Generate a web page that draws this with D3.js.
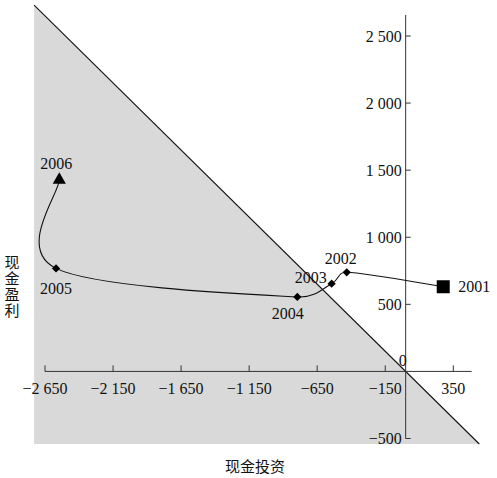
<!DOCTYPE html>
<html><head><meta charset="utf-8">
<script src="https://cdn.jsdelivr.net/npm/d3@7"></script>
<style>body{margin:0;background:#fff}svg{display:block}</style>
</head><body>
<svg id="c" width="497" height="478"></svg>
<script>
const years = ["2001","2002","2003","2004","2005","2006"];
const cashInvestment = [276, -433, -544, -796, -2569, -2545];
const cashEarnings = [631, 739, 654, 555, 768, 1427];
const xTicks = [-2650, -2150, -1650, -1150, -650, -150, 350];
const yTicks = [-500, 0, 500, 1000, 1500, 2000, 2500];
const xTitle = "现金投资";
const yTitle = "现金盈利";

const svg = d3.select("#c");
const x = d3.scaleLinear().domain([-2650, 350]).range([45, 453.3]);
const y = d3.scaleLinear().domain([-500, 2500]).range([438.5, 36]);
const serif = "'Liberation Serif','Times New Roman',serif";
const fmt = v => {
  const s = Math.abs(v).toString();
  const t = s.length > 3 ? s.slice(0, s.length - 3) + " " + s.slice(-3) : s;
  return (v < 0 ? "\u2212" : "") + t;
};

// shaded region (x + y <= 0)
const gx0 = -2730, gy1 = -541;
svg.append("path")
  .attr("d", d3.line()([[x(gx0), y(-gx0)], [x(gx0), y(gy1)], [x(-gy1), y(gy1)]]) + "Z")
  .attr("fill", "#d9d9d9");
svg.append("line")
  .attr("x1", x(gx0)).attr("y1", y(-gx0)).attr("x2", x(-gy1)).attr("y2", y(gy1))
  .attr("stroke", "#111").attr("stroke-width", 1.1);

// x axis
const ax = svg.append("g").attr("stroke", "#333").attr("stroke-width", 1);
ax.append("line").attr("x1", x(-2650)).attr("x2", x(485)).attr("y1", y(0)).attr("y2", y(0));
xTicks.forEach(t => {
  ax.append("line").attr("x1", x(t)).attr("x2", x(t)).attr("y1", y(0)).attr("y2", y(0) - 6);
});
svg.append("g").selectAll("text").data(xTicks).join("text")
  .attr("x", d => x(d)).attr("y", y(0) + 17).attr("dy", "0.35em")
  .attr("text-anchor", "middle").attr("font-family", serif).attr("font-size", 16)
  .attr("fill", "#111").text(fmt);

// y axis
ax.append("line").attr("x1", x(0)).attr("x2", x(0)).attr("y1", y(-500)).attr("y2", y(2657));
yTicks.filter(t => t !== 0).forEach(t => {
  ax.append("line").attr("x1", x(0)).attr("x2", x(0) + 5).attr("y1", y(t)).attr("y2", y(t));
});
svg.append("g").selectAll("text").data(yTicks.filter(t => t !== 0)).join("text")
  .attr("x", x(0) - 4).attr("y", d => y(d)).attr("dy", "0.35em")
  .attr("text-anchor", "end").attr("font-family", serif).attr("font-size", 16)
  .attr("fill", "#111").text(fmt);
svg.append("text").attr("x", x(0) - 3).attr("y", y(0) - 11).attr("dy", "0.35em")
  .attr("text-anchor", "middle").attr("font-family", serif).attr("font-size", 16)
  .attr("fill", "#111").text("0");

// smoothed path (Bezier with tangent/6, capped at half segment length)
const pts = years.map((yr, i) => [x(cashInvestment[i]), y(cashEarnings[i])]);
function smooth(P) {
  const p = d3.path();
  const n = P.length;
  const dist = (a, b) => Math.hypot(b[0] - a[0], b[1] - a[1]);
  p.moveTo(P[0][0], P[0][1]);
  for (let i = 0; i < n - 1; i++) {
    const p0 = P[Math.max(i - 1, 0)], p1 = P[i], p2 = P[i + 1], p3 = P[Math.min(i + 2, n - 1)];
    const seg = dist(p1, p2);
    let t1 = [(p2[0] - p0[0]) / 6, (p2[1] - p0[1]) / 6];
    let t2 = [(p3[0] - p1[0]) / 6, (p3[1] - p1[1]) / 6];
    const l1 = Math.hypot(...t1), l2 = Math.hypot(...t2);
    if (l1 > seg / 2) t1 = t1.map(v => v * seg / 2 / l1);
    if (l2 > seg / 2) t2 = t2.map(v => v * seg / 2 / l2);
    p.bezierCurveTo(p1[0] + t1[0], p1[1] + t1[1], p2[0] - t2[0], p2[1] - t2[1], p2[0], p2[1]);
  }
  return p.toString();
}
svg.append("path").attr("d", smooth(pts))
  .attr("fill", "none").attr("stroke", "#111").attr("stroke-width", 1.1);

// markers
pts.forEach((p, i) => {
  let sym;
  if (i === 0) sym = d3.symbol(d3.symbolSquare, 169)();
  else if (i === pts.length - 1) sym = d3.symbol(d3.symbolTriangle, 75)();
  else sym = d3.symbol(d3.symbolSquare, 34)();
  svg.append("path").attr("d", sym)
    .attr("transform", `translate(${p[0]},${p[1]})` + (i > 0 && i < pts.length - 1 ? " rotate(45)" : ""))
    .attr("fill", "#000");
});

// year labels
const lab = {
  "2001": [15, 0, "start"], "2002": [-6, -14, "middle"], "2003": [-21, -6, "middle"],
  "2004": [-9.5, 16, "middle"], "2005": [0, 20, "middle"], "2006": [-3, -17, "middle"]
};
pts.forEach((p, i) => {
  const o = lab[years[i]];
  svg.append("text").attr("x", p[0] + o[0]).attr("y", p[1] + o[1]).attr("dy", "0.35em")
    .attr("text-anchor", o[2]).attr("font-family", serif).attr("font-size", 16)
    .attr("fill", "#111").text(years[i]);
});

// titles
const cjk = "'Noto Sans CJK SC','Noto Sans',sans-serif";
svg.append("text").attr("x", 255).attr("y", 467).attr("dy", "0.35em")
  .attr("text-anchor", "middle").attr("font-family", cjk).attr("font-size", 15)
  .attr("fill", "#111").text(xTitle);
svg.append("text").attr("x", 12).attr("y", 287)
  .attr("text-anchor", "middle").attr("font-family", cjk).attr("font-size", 15)
  .attr("letter-spacing", 1)
  .style("writing-mode", "vertical-rl")
  .attr("fill", "#111").text(yTitle);
</script>
</body></html>
